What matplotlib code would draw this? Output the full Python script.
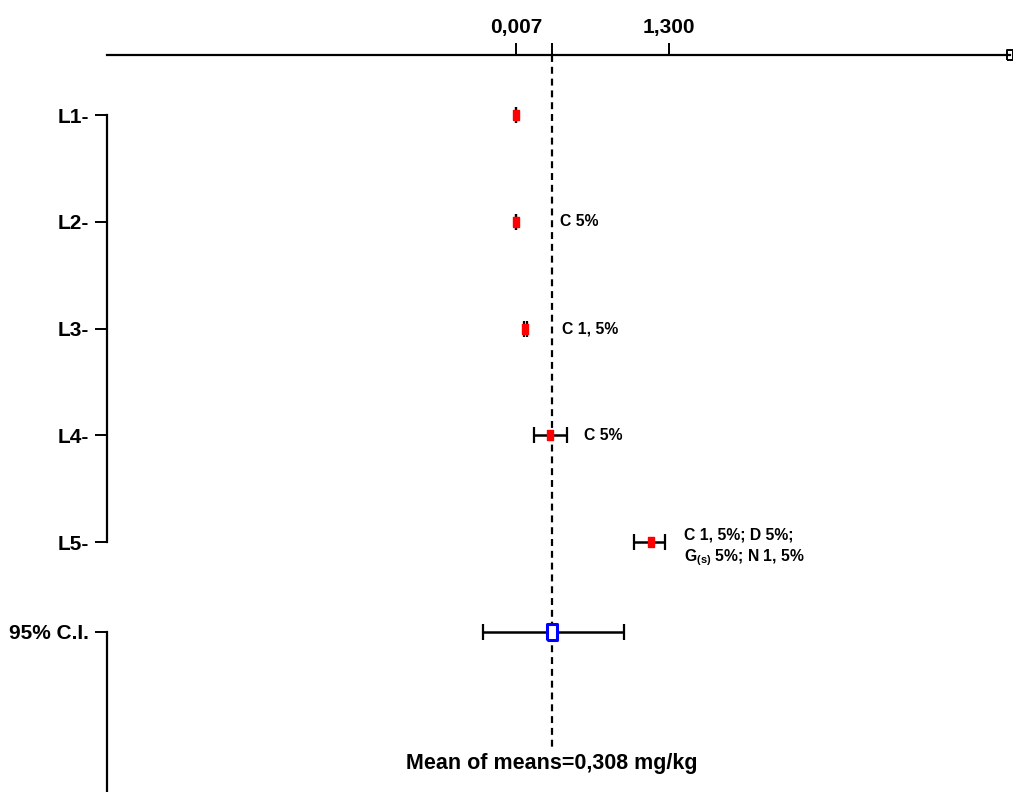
import matplotlib
matplotlib.use("Agg")
from matplotlib import pyplot as plt

plt.rcParams['lines.scale_dashes'] = False
plt.rcParams['mathtext.fontset'] = 'custom'
plt.rcParams['mathtext.rm'] = 'Liberation Sans:bold'

# data
labs = ["L1", "L2", "L3", "L4", "L5"]
means = [0.007, 0.007, 0.083, 0.295, 1.148]
lo = [0.004, 0.004, 0.072, 0.160, 1.004]
hi = [0.010, 0.010, 0.097, 0.440, 1.266]
notes = ["", "C 5%", "C 1, 5%", "C 5%", "C 1, 5%; D 5%;\nG$_{\\rm (s)}$ 5%; N 1, 5%"]
ci_mean = 0.308
ci_lo = -0.275
ci_hi = 0.917
xtick_vals = [0.007, 1.300]
xtick_labs = ["0,007", "1,300"]

# layout (row positions / axis extents)
rows = [1, 2, 3, 4, 5]
ci_row = 5.84
axis_row = 0.438
x_left, x_right = -3.45, 4.18
note_x = [0.38, 0.38, 0.396, 0.582, 1.427]
note_dy = [0, 0, 0, 0, 0.05]

lab_font = ['Liberation Sans', 'DejaVu Sans']

fig = plt.figure(figsize=(10.13, 7.92), dpi=100)
ax = fig.add_axes([0, 0, 1, 1])
ax.set_xlim(-4.355, 4.208)
ax.set_ylim(7.34, -0.077)

# spines
for s in ['right', 'bottom']:
    ax.spines[s].set_visible(False)
ax.spines['top'].set_position(('data', axis_row))
ax.spines['top'].set_bounds(x_left, x_right)
ax.spines['left'].set_position(('data', x_left))
ax.spines['left'].set_bounds(rows[0], rows[-1])
for s in ['top', 'left']:
    ax.spines[s].set_linewidth(1.6)
ax.plot([x_left, x_left], [ci_row, 7.34], color='black', lw=1.6, clip_on=False)
ax.plot([x_right], [axis_row], marker=[(-0.3, -0.5), (0.3, -0.5), (0.3, 0.5), (-0.3, 0.5), (-0.3, -0.5)],
        ms=7, mfc='white', mec='black', mew=1.4, clip_on=False)

# x ticks on top
ax.xaxis.set_ticks_position('top')
ax.set_xticks(xtick_vals + [ci_mean])
ax.set_xticklabels(xtick_labs + [""], family=lab_font, fontweight='bold', fontsize=15)
ax.tick_params(axis='x', direction='out', length=9, width=1.4, pad=4)

# y ticks on left
ax.set_yticks(rows + [ci_row])
ax.set_yticklabels([l + "-" for l in labs] + ["95% C.I."], family=lab_font, fontweight='bold', fontsize=15)
ax.tick_params(axis='y', direction='out', length=9, width=1.4, pad=4)

# mean of means line
ax.plot([ci_mean, ci_mean], [axis_row, 6.93], color='black', lw=1.6, dashes=(5, 3.5))
ax.text(ci_mean, 7.07, "Mean of means=0,308 mg/kg", family=lab_font, fontweight='bold',
        fontsize=15.5, ha='center', va='center')

# study rows
xerr = [[m - l for m, l in zip(means, lo)], [h - m for m, h in zip(means, hi)]]
ax.errorbar(means, rows, xerr=xerr, fmt='none', ecolor='black', elinewidth=1.8,
            capsize=6, capthick=1.6, zorder=3)
ax.plot(means, rows, color='red', ls='none', zorder=4,
        marker=[(-0.35, -0.5), (0.35, -0.5), (0.35, 0.5), (-0.35, 0.5), (-0.35, -0.5)], ms=7)

# pooled CI
ax.errorbar([ci_mean], [ci_row], xerr=[[ci_mean - ci_lo], [ci_hi - ci_mean]], fmt='none',
            ecolor='black', elinewidth=1.8, capsize=6, capthick=1.6, zorder=3)
ax.plot([ci_mean], [ci_row], ls='none', mfc='white', mec='blue', mew=2.2, ms=11, zorder=4,
        marker=[(-0.33, -0.5), (0.33, -0.5), (0.33, 0.5), (-0.33, 0.5), (-0.33, -0.5)])

for x, r, dy, t in zip(note_x, rows, note_dy, notes):
    if t:
        ax.text(x, r + dy, t, family=lab_font, fontweight='bold', fontsize=11.3,
                ha='left', va='center', linespacing=1.35)

fig.savefig("out.png", dpi=100)
